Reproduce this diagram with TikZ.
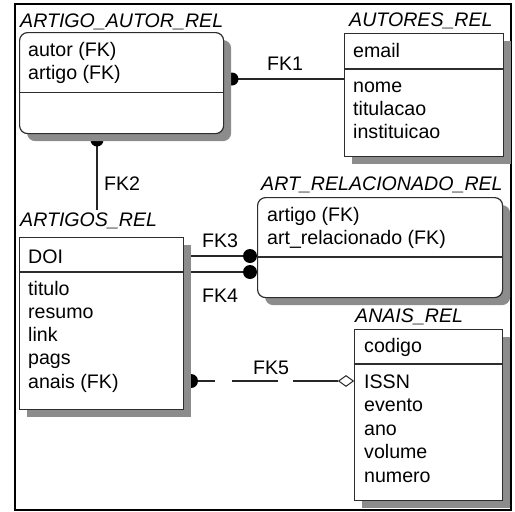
\documentclass[tikz,border=0pt]{standalone}
\usepackage{fontspec}
\setmainfont{Liberation Sans}
\usetikzlibrary{shadows,backgrounds,calc,shapes.geometric}
\definecolor{shadowgray}{RGB}{140,140,140}
\definecolor{boxline}{RGB}{45,45,45}
\tikzset{
 ent/.style={draw=boxline, line width=1.2pt, fill=white, inner sep=0pt, anchor=north west,
   drop shadow={shadow xshift=7.5pt, shadow yshift=-7.5pt, fill=shadowgray, opacity=1}},
 relent/.style={ent, rounded corners=8pt},
 etitle/.style={font=\itshape\fontsize{19.6}{23}\selectfont, anchor=base west, inner sep=0pt},
 field/.style={font=\fontsize{19.6}{23}\selectfont, anchor=base west, inner sep=0pt},
 fklabel/.style={font=\fontsize{19.6}{23}\selectfont, inner sep=0pt},
 divider/.style={draw=boxline, line width=1.2pt},
 conn/.style={draw=black!85, line width=1.2pt},
 dot/.style={fill=black},
}
\begin{document}
\begin{tikzpicture}[x=1pt,y=-1pt]
\useasboundingbox (0,0) rectangle (515,512);
\draw[line width=2pt] (15,4) rectangle (511,510);

% entities
\node[relent, minimum width=204pt, minimum height=101pt] (aa) at (19,32) {};
\node[ent, minimum width=159pt, minimum height=123pt] (au) at (344,33) {};
\node[relent, minimum width=245pt, minimum height=100pt] (ar) at (257,197) {};
\node[ent, minimum width=164pt, minimum height=172pt] (ag) at (19,237) {};
\node[ent, minimum width=148pt, minimum height=171pt] (an) at (354,329) {};

% dividers
\draw[divider] (aa.west |- 0,92.5) -- (aa.east |- 0,92.5);
\draw[divider] (au.west |- 0,69) -- (au.east |- 0,69);
\draw[divider] (ar.west |- 0,257) -- (ar.east |- 0,257);
\draw[divider] (ag.west |- 0,272) -- (ag.east |- 0,272);
\draw[divider] (an.west |- 0,364) -- (an.east |- 0,364);

% titles
\node[etitle] (taa) at (20,27) {ARTIGO\_AUTOR\_REL};
\node[etitle] (tau) at (349,26) {AUTORES\_REL};
\node[etitle] (tar) at (261,190) {ART\_RELACIONADO\_REL};
\node[etitle] (tag) at (20,226) {ARTIGOS\_REL};
\node[etitle] (tan) at (355,322) {ANAIS\_REL};

% fields
\node[field] (aa1) at (28,56) {autor (FK)};
\node[field] (aa2) at (28,79) {artigo (FK)};
\node[field] (au1) at (353,57) {email};
\node[field] (au2) at (353,92) {nome};
\node[field] (au3) at (353,115) {titulacao};
\node[field] (au4) at (353,138) {instituicao};
\node[field] (ar1) at (267,221) {artigo (FK)};
\node[field] (ar2) at (267,244) {art\_relacionado (FK)};
\node[field] (ag1) at (28,263) {DOI};
\node[field] (ag2) at (28,295) {titulo};
\node[field] (ag3) at (28,318) {resumo};
\node[field] (ag4) at (28,341) {link};
\node[field] (ag5) at (28,364.5) {pags};
\node[field] (ag6) at (28,388) {anais (FK)};
\node[field] (an1) at (364,352) {codigo};
\node[field] (an2) at (364,388) {ISSN};
\node[field] (an3) at (364,411.5) {evento};
\node[field] (an4) at (364,435) {ano};
\node[field] (an5) at (364,458.5) {volume};
\node[field] (an6) at (364,482) {numero};

% relationship labels
\node[fklabel] (l1) at (285,64) {FK1};
\node[fklabel] (l2) at (122,184) {FK2};
\node[fklabel] (l3) at (220,241) {FK3};
\node[fklabel] (l4) at (220,296) {FK4};
\node[fklabel] (l5) at (271,368) {FK5};

% diamond for FK5
\node[diamond, draw=black!85, line width=1pt, fill=white, minimum width=15pt, minimum height=11pt, inner sep=0pt, anchor=east] (d5) at (an.west |- 0,381) {};

% connectors (behind entities and shadows)
\coordinate (c1) at (232,79);
\coordinate (c2) at (97,140);
\coordinate (e2) at (97,210);
\coordinate (c3) at (250,256);
\coordinate (c4) at (250,272);
\coordinate (c5) at (191,381);
\begin{pgfonlayer}{background}
\draw[conn] (c1) -- (au.west |- c1);
\fill[dot] (c1) circle (6.5pt);
\draw[conn] (c2) -- (e2);
\fill[dot] (c2) circle (6.5pt);
\draw[conn] (ag.east |- c3) -- (c3);
\fill[dot] (c3) circle (7pt);
\draw[conn] (ag.east |- c4) -- (c4);
\fill[dot] (c4) circle (7pt);
\draw[conn, dash pattern=on 24pt off 17pt on 46pt off 15pt on 60pt off 0pt] (c5) -- (d5.west);
\fill[dot] (c5) circle (7pt);
\end{pgfonlayer}
\end{tikzpicture}
\end{document}
